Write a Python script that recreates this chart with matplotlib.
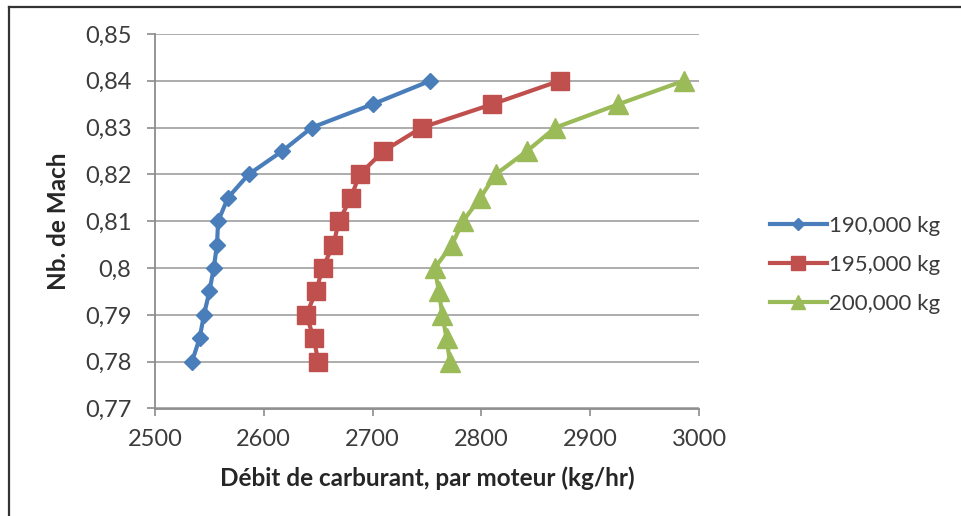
import matplotlib.pyplot as plt
from matplotlib.lines import Line2D
from matplotlib.ticker import FuncFormatter

plt.rcParams['font.family'] = ['Lato', 'DejaVu Sans']

# Mach number (same for all three curves)
mach = [0.78, 0.785, 0.79, 0.795, 0.80, 0.805, 0.81, 0.815, 0.82, 0.825, 0.83, 0.835, 0.84]

# fuel flow per engine (kg/hr)
debit_190 = [2534, 2541, 2545, 2550, 2554, 2557, 2558, 2567, 2586, 2617, 2644, 2700, 2753]
debit_195 = [2650, 2646, 2639, 2648, 2654, 2664, 2669, 2680, 2688, 2710, 2745, 2810, 2872]
debit_200 = [2771, 2768, 2764, 2761, 2757, 2773, 2783, 2799, 2813, 2842, 2868, 2926, 2986]

noms = ['190,000 kg', '195,000 kg', '200,000 kg']
x_ticks = [2500, 2600, 2700, 2800, 2900, 3000]
y_ticks = [0.77, 0.78, 0.79, 0.80, 0.81, 0.82, 0.83, 0.84, 0.85]

gris_txt = '#3b3b3b'
gris_axe = '#8c8c8c'

fig = plt.figure(figsize=(9.61, 5.16), dpi=100)
W, H = 961.0, 516.0
ax = fig.add_axes([155/W, 1-408.5/H, (699-155)/W, (408.5-34)/H])

ax.plot(debit_190, mach, '-D', color='#4A7EBB', lw=3, ms=8.5, label=noms[0])
ax.plot(debit_195, mach, '-s', color='#C0504D', lw=3, ms=13, label=noms[1])
ax.plot(debit_200, mach, '-^', color='#9BBB59', lw=3, ms=14, label=noms[2])

ax.set_xlim(2500, 3000)
ax.set_ylim(0.77, 0.85)
ax.set_xticks(x_ticks)
ax.set_yticks(y_ticks)

def virgule(v, pos):
    s = ('%.2f' % v).rstrip('0')
    return s.replace('.', ',')

ax.yaxis.set_major_formatter(FuncFormatter(virgule))
ax.grid(axis='y', color='#a6a6a6', lw=1.3)
ax.set_axisbelow(True)
for s in ['top', 'right']:
    ax.spines[s].set_visible(False)
for s in ['left', 'bottom']:
    ax.spines[s].set_color(gris_axe)
    ax.spines[s].set_linewidth(1.3)
ax.tick_params(axis='y', length=6, width=1.2, color=gris_axe, labelsize=17,
               labelcolor=gris_txt, pad=11)
ax.tick_params(axis='x', length=5, width=1.2, color=gris_axe, labelsize=17,
               labelcolor=gris_txt, pad=10)

ax.set_xlabel('Débit de carburant, par moteur (kg/hr)', fontsize=17.5,
              fontweight='bold', color='#262626')
ax.xaxis.label.set_va('center')
ax.xaxis.set_label_coords(0.5, -(478-408.5)/374.5)
ax.set_ylabel('Nb. de Mach', fontsize=17.5, fontweight='bold', color='#262626')
ax.yaxis.label.set_va('center')
ax.yaxis.set_label_coords((58-155)/544.0, 0.5)

leg = ax.legend(loc='center left', bbox_to_anchor=(770/W, 1-265/H),
                bbox_transform=fig.transFigure, frameon=False, fontsize=16,
                borderaxespad=0, borderpad=0,
                handlelength=2.55, handletextpad=0.1, labelspacing=0.85,
                markerscale=0.75)
for t in leg.get_texts():
    t.set_color(gris_txt)

# cadre du graphique (haut et gauche)
fig.add_artist(Line2D([9/W, 1], [1-7/H, 1-7/H], color='#333333', lw=1.6,
                      transform=fig.transFigure))
fig.add_artist(Line2D([9/W, 9/W], [0, 1-7/H], color='#333333', lw=1.6,
                      transform=fig.transFigure))

fig.savefig('out.png', dpi=100)
